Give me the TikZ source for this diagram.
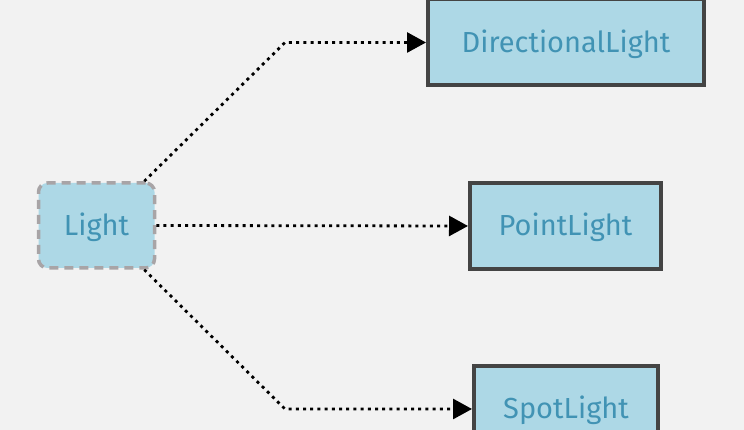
\documentclass[tikz,border=0pt]{standalone}
\usepackage{fontspec}
\setmainfont{Fira Sans}
\usetikzlibrary{arrows.meta}
\definecolor{bg}{HTML}{F2F2F2}
\definecolor{boxfill}{HTML}{ADD8E6}
\definecolor{boxtext}{HTML}{4193B4}
\definecolor{boxline}{HTML}{444444}
\definecolor{dashline}{HTML}{A8A4A6}
\tikzset{
  classbox/.style={draw=boxline, line width=4pt, fill=boxfill, text=boxtext,
    font=\fontsize{29}{34}\selectfont, inner sep=0pt, anchor=center,
    text height=24pt, text depth=4pt},
  abstractbox/.style={draw=dashline, line width=3.5pt, fill=boxfill, text=boxtext,
    dash pattern=on 9pt off 6pt, rounded corners=9pt,
    font=\fontsize{29}{34}\selectfont, inner sep=0pt, anchor=center,
    text height=24pt, text depth=4pt},
  realize/.style={draw=black, line width=2.8pt, dash pattern=on 3pt off 4.2pt,
    -{Triangle[length=19pt,width=20pt]}}
}
\begin{document}
\begin{tikzpicture}[x=1pt,y=1pt]
\fill[bg] (0,0) rectangle (744,430);
\useasboundingbox (0,0) rectangle (744,430);
\node[abstractbox, minimum width=116pt, minimum height=85pt] (light) at (96.5,204.5) {Light};
\node[classbox, minimum width=276pt, minimum height=86pt] (dir) at (566,387.5) {DirectionalLight};
\node[classbox, minimum width=191pt, minimum height=86pt] (point) at (565.5,204) {PointLight};
\node[classbox, minimum width=184pt, minimum height=86pt] (spot) at (566,21) {SpotLight};
\coordinate (b1) at (285,387.5);
\coordinate (b2) at (285,21);
\draw[realize] ([xshift=-12pt]light.north east) -- (b1) -- (dir.west);
\draw[realize] (light.east) -- (point.west);
\draw[realize] ([xshift=-12pt]light.south east) -- (b2) -- (spot.west);
\end{tikzpicture}
\end{document}
